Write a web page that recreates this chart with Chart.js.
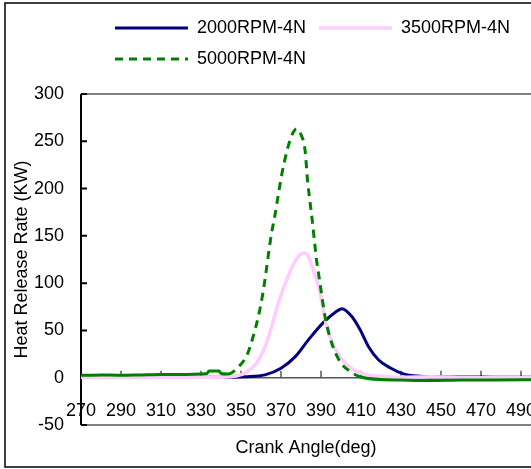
<!DOCTYPE html>
<html>
<head>
<meta charset="utf-8">
<script src="https://cdn.jsdelivr.net/npm/chart.js@4.4.0/dist/chart.umd.min.js"></script>
<style>
  html, body { margin: 0; padding: 0; background: #fff; overflow: hidden; }
</style>
</head>
<body>
<canvas id="canvas" width="531" height="469"></canvas>
<script>
  // crank angle (deg) / heat release rate (KW)
  const angles2000 = [270, 300, 330, 345, 352, 362, 370, 377, 383.7, 391, 397, 400.5, 405.3, 409.5, 413.7, 418.7, 424.5, 431.2, 439.5, 447, 460, 480, 500];
  const hrr2000 = [0.5, 0.5, 0.5, 0.5, 1, 3, 10, 22, 40, 58, 69, 73, 65, 51, 33, 19, 10.5, 4, 1.5, 1, 1, 0.5, 0.5];

  const angles3500 = [270, 300, 330, 340, 345, 352, 358, 362, 365.3, 368.5, 372, 376, 379, 381.7, 384, 386, 389.5, 392, 395, 399.5, 405, 413, 420, 430, 445, 460, 480, 500];
  const hrr3500 = [0.5, 0.5, 0.5, 0.5, 1, 5, 16, 33, 54, 78, 99, 119, 129, 132, 127, 115, 90, 62, 40, 22, 10, 3, 1.5, 0.5, 1, 0.5, 0, 0];

  const angles5000 = [270, 280, 290, 300, 310, 320, 330, 333, 334, 339, 340, 343.5, 348.5, 353, 356, 358.7, 361, 362.8, 364.2, 365.3, 367, 368.3, 370.3, 373.5, 376, 377.8, 380, 382, 383.3, 384.5, 385.7, 386.7, 387.8, 389.5, 392, 395.3, 399.5, 405, 409.5, 414, 419.5, 430, 445, 460, 475, 500];
  const hrr5000 = [2.5, 3, 2.5, 3, 3.5, 3.5, 4, 4.5, 7, 7, 4.5, 4, 11, 24, 43, 65, 90, 116, 138, 153, 172, 189, 214, 244, 259, 263, 257, 241, 208, 186, 165, 145, 124, 100, 65, 37, 17, 6, 1, -1, -2, -2.5, -3, -2.5, -2.5, -2];

  const seriesNames = ["2000RPM-4N", "3500RPM-4N", "5000RPM-4N"];
  const xTicks = [270, 290, 310, 330, 350, 370, 390, 410, 430, 450, 470, 490];

  const toPoints = (xs, ys) => xs.map((a, i) => ({ x: a, y: ys[i] }));

  Chart.defaults.font.family = "'Liberation Sans', Arial, sans-serif";
  Chart.defaults.font.size = 18;
  Chart.defaults.color = "#000";

  // frame, zero line and inward tick marks like the original spreadsheet chart
  const framePlugin = {
    id: "frame",
    afterLayout(chart) {
      // push the legend rows to where the original has them
      const lg = chart.legend;
      lg.left = 102;
      lg.right = 640;
      lg.top = 6;
      lg.bottom = 78;
    },
    beforeDatasetsDraw(chart) {
      const { ctx, chartArea: a, scales: { x, y } } = chart;
      ctx.save();
      ctx.strokeStyle = "#808080";
      ctx.lineWidth = 2;
      ctx.beginPath();
      ctx.moveTo(a.left, a.top); ctx.lineTo(a.right, a.top);
      ctx.moveTo(a.left, a.bottom); ctx.lineTo(a.right, a.bottom);
      ctx.stroke();

      const y0 = y.getPixelForValue(0);
      ctx.strokeStyle = "#555";
      ctx.lineWidth = 1.5;
      ctx.beginPath();
      ctx.moveTo(a.left, y0); ctx.lineTo(a.right, y0);
      x.ticks.forEach(t => {
        const px = x.getPixelForValue(t.value);
        ctx.moveTo(px, y0); ctx.lineTo(px, y0 - 7);
      });
      ctx.stroke();

      ctx.strokeStyle = "#000";
      ctx.lineWidth = 2;
      ctx.beginPath();
      ctx.moveTo(a.left, a.top); ctx.lineTo(a.left, a.bottom);
      y.ticks.forEach(t => {
        const py = y.getPixelForValue(t.value);
        ctx.moveTo(a.left, py); ctx.lineTo(a.left + 6, py);
      });
      ctx.stroke();
      ctx.restore();
    },
    afterDraw(chart) {
      const ctx = chart.ctx;
      ctx.save();
      ctx.strokeStyle = "#000";
      ctx.lineWidth = 1.5;
      ctx.strokeRect(5, 3, 700, 464);
      ctx.restore();
    }
  };

  const ctx = document.getElementById("canvas").getContext("2d");

  const options = {
    type: "line",
    data: {
      datasets: [
        {
          label: seriesNames[0],
          data: toPoints(angles2000, hrr2000),
          borderColor: "#000080",
          borderWidth: 3,
          order: 2
        },
        {
          label: seriesNames[1],
          data: toPoints(angles3500, hrr3500),
          borderColor: "#ffccff",
          borderWidth: 3.5,
          order: 1
        },
        {
          label: seriesNames[2],
          data: toPoints(angles5000, hrr5000),
          borderColor: "#008000",
          borderWidth: 3,
          borderDash: [8, 6],
          order: 0,
          segment: {
            // the flat noisy parts look solid in the original
            borderDash: c => (c.p0.parsed.x >= 343 && c.p1.parsed.x <= 410) ? undefined : []
          }
        }
      ]
    },
    options: {
      responsive: false,
      animation: false,
      layout: { padding: { left: 7, top: 22, right: 0, bottom: 6 } },
      elements: {
        point: { radius: 0 },
        line: { cubicInterpolationMode: "monotone", fill: false }
      },
      scales: {
        x: {
          type: "linear",
          min: 270,
          max: 495,
          grid: { display: false, drawTicks: false },
          border: { display: false },
          afterBuildTicks: axis => { axis.ticks = xTicks.map(v => ({ value: v })); },
          afterFit: scale => {
            // the original is cropped on the right, so let the last label run off
            scale.height = 38;
            scale.paddingLeft = 0;
            scale.paddingRight = 0;
          },
          ticks: { mirror: true, padding: 3, maxRotation: 0, autoSkip: false },
          title: { display: true, text: "Crank Angle(deg)", padding: { top: 4, bottom: 4 } }
        },
        y: {
          min: -50,
          max: 300,
          grid: { display: false, drawTicks: false },
          border: { display: false },
          afterFit: scale => { scale.width = 74; },
          ticks: { stepSize: 50, padding: 17 },
          title: { display: true, text: "Heat Release Rate (KW)", padding: { top: 4, bottom: 4 } }
        }
      },
      plugins: {
        legend: {
          position: "top",
          align: "start",
          labels: {
            usePointStyle: true,
            pointStyle: "line",
            pointStyleWidth: 73,
            padding: 13,
            sort: (a, b) => a.datasetIndex - b.datasetIndex,
            generateLabels: chart =>
              Chart.defaults.plugins.legend.labels.generateLabels(chart).map(item => {
                const ds = chart.data.datasets[item.datasetIndex];
                item.strokeStyle = ds.borderColor;
                item.lineWidth = ds.borderWidth;
                item.lineDash = ds.borderDash || [];
                return item;
              })
          }
        },
        tooltip: { enabled: false }
      }
    },
    plugins: [framePlugin]
  };

  window.myChart = new Chart(ctx, options);
</script>
</body>
</html>
